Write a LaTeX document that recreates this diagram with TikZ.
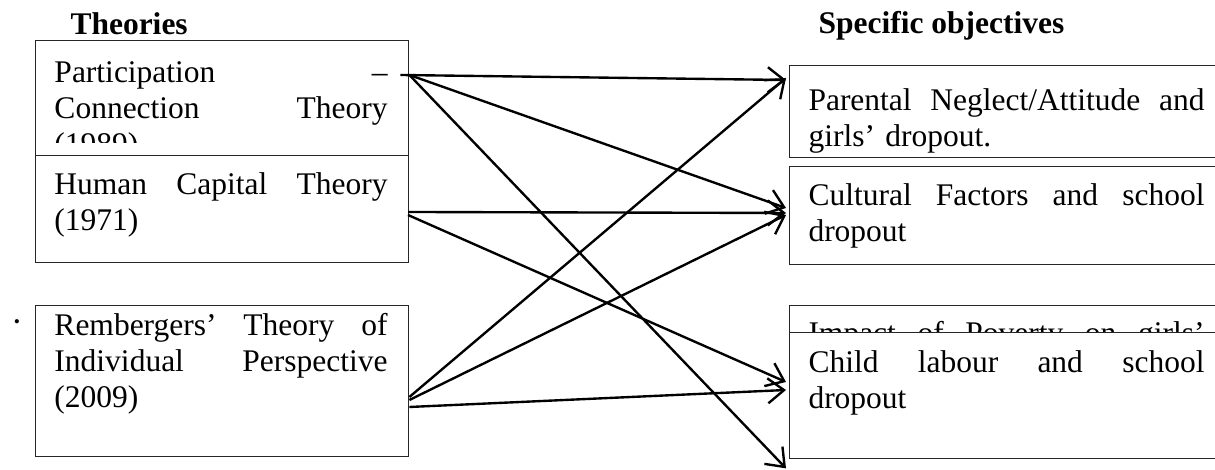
\documentclass[tikz,border=0pt]{standalone}
\usepackage{fontspec}
\setmainfont{Liberation Serif}
\usetikzlibrary{arrows.meta,calc}
\begin{document}
\begin{tikzpicture}[x=0.4pt,y=-0.4pt,
  box/.style={draw=black!85,line width=0.55pt,rectangle,inner sep=0pt,anchor=north west,fill=white},
  txt/.style={anchor=north west,inner sep=0pt,align=left,font=\fontsize{12.6}{14.4}\selectfont},
  ltxt/.style={txt,text width=133.2pt},
  rtxt/.style={txt,text width=158.4pt},
  head/.style={anchor=base west,inner sep=0pt,font=\fontsize{12.6}{14.4}\selectfont\bfseries},
  link/.style={line width=0.95pt,-{Straight Barb[length=6.5pt,width=10pt]}}]
\useasboundingbox (0,0) rectangle (1215,470);
\fill[white] (0,0) rectangle (1215,470);
% headings
\node[head] (th) at (70,35) {Theories};
\node[head] (so) at (818,34) {Specific objectives};
% left boxes
\node[box,minimum width=149.2pt,minimum height=46pt] (A) at (35,40) {};
\begin{scope}
\clip (35,40) rectangle (408,143);
\node[ltxt] (At) at (54,56.8) {\strut Participation\hfill –\\Connection\hfill Theory\\(1989)};
\end{scope}
\node[box,minimum width=149.2pt,minimum height=42.8pt] (B) at (35,155) {};
\node[ltxt] (Bt) at (54,168.8) {\strut Human\hfill Capital\hfill Theory\\(1971)};
\node[box,minimum width=149.2pt,minimum height=60.4pt] (C) at (35,305) {};
\node[ltxt] (Ct) at (54,309.8) {\strut Rembergers’\hfill Theory\hfill of\\Individual\hfill Perspective\\(2009)};
\node[anchor=center,inner sep=0pt,font=\fontsize{7}{7}\selectfont] (bul) at (17,324) {•};
% right boxes
\node[box,minimum width=174.4pt,minimum height=36.8pt] (D) at (789,65) {};
\node[rtxt] (Dt) at (808,84.8) {\strut Parental\hfill Neglect/Attitude\hfill and\\girls’ dropout.};
\node[box,minimum width=174.4pt,minimum height=39.2pt] (E) at (789,166) {};
\node[rtxt] (Et) at (808,179.8) {\strut Cultural\hfill Factors\hfill and\hfill school\\dropout};
\node[box,minimum width=174.4pt,minimum height=40pt] (P) at (789,305) {};
\node[rtxt] (Pt) at (808,317.8) {\strut Impact\hfill of\hfill Poverty\hfill on\hfill girls’};
\node[box,minimum width=174.4pt,minimum height=50.4pt] (F) at (789,332) {};
\node[rtxt] (Ft) at (808,346.8) {\strut Child\hfill labour\hfill and\hfill school\\dropout};
% connector end points
\coordinate (a0) at ($(A.north east)+(-9,35)$);
\coordinate (a1) at ($(A.north east)+(0,35)$);
\coordinate (b1) at ($(B.north west)+(373,57)$);
\coordinate (b2) at ($(B.north west)+(373,60)$);
\coordinate (c1) at ($(C.north east)+(0,92)$);
\coordinate (c2) at ($(C.north east)+(0,95)$);
\coordinate (c3) at ($(C.north east)+(0,102)$);
\coordinate (d1) at ($(D.north west)+(-3,15)$);
\coordinate (d2) at ($(D.north west)+(-3,13)$);
\coordinate (e1) at ($(E.north west)+(-3,42)$);
\coordinate (e2) at ($(E.north west)+(-3,47)$);
\coordinate (e3) at ($(E.north west)+(-3,49)$);
\coordinate (f1) at ($(F.north west)+(-3,50)$);
\coordinate (f2) at ($(F.north west)+(-3,58)$);
\coordinate (z) at ($(F.south west)+(-3,9)$);
% connectors
\draw[link] (a0) -- (d1);
\draw[link] (a1) -- (e1);
\draw[link] (a1) -- (z);
\draw[link] (b1) -- (e2);
\draw[link] (b2) -- (f1);
\draw[link] (c1) -- (d2);
\draw[link] (c2) -- (e3);
\draw[link] (c3) -- (f2);
\end{tikzpicture}
\end{document}
